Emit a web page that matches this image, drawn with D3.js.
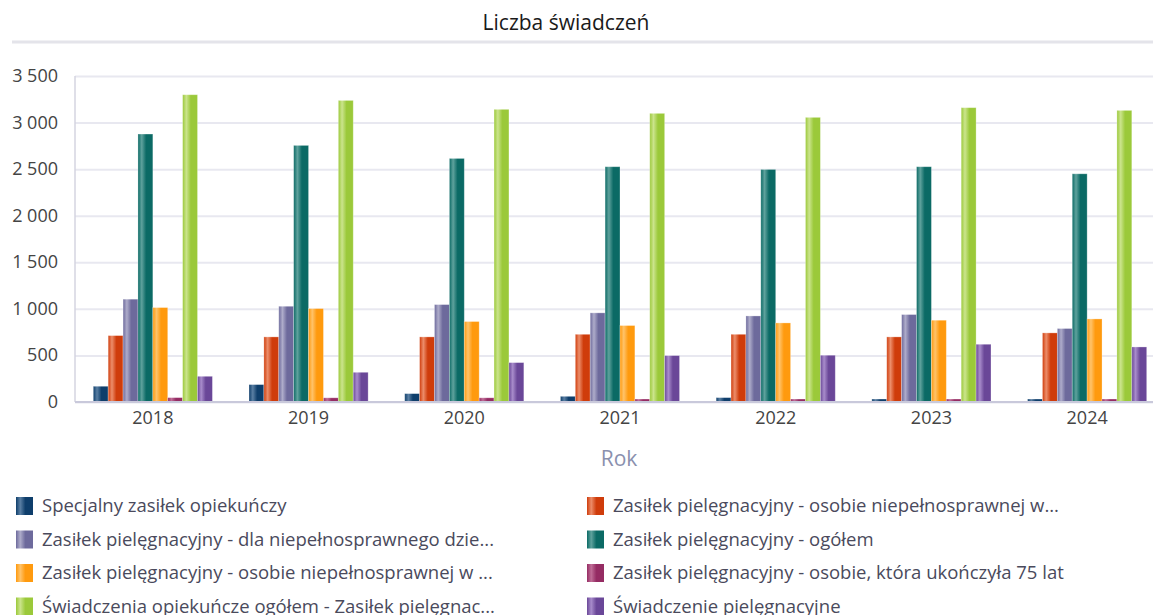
<!DOCTYPE html>
<meta charset="utf-8">
<style>
	body { margin: 0; font-family: "Open Sans", "DejaVu Sans", sans-serif; background: #fff; }
	text { fill: #444; }
	.grid line { stroke: #e8e8f0; stroke-width: 2; }
	.grid path { display: none; }
	.x-axis path { stroke: #c9c9db; stroke-width: 2; }
	.x-axis line { display: none; }
</style>
<body>
<svg id="chart" width="1153" height="615"></svg>

<script src="https://d3js.org/d3.v7.min.js"></script>
<script>
	var years = ["2018", "2019", "2020", "2021", "2022", "2023", "2024"];

	var seriesNames = [
		"Specjalny zasiłek opiekuńczy",
		"Zasiłek pielęgnacyjny -  osobie niepełnosprawnej w...",
		"Zasiłek pielęgnacyjny - dla niepełnosprawnego dzie...",
		"Zasiłek pielęgnacyjny - ogółem",
		"Zasiłek pielęgnacyjny - osobie niepełnosprawnej w ...",
		"Zasiłek pielęgnacyjny - osobie, która ukończyła 75 lat",
		"Świadczenia opiekuńcze ogółem - Zasiłek pielęgnac...",
		"Świadczenie pielęgnacyjne"
	];

	var specjalny   = [169, 187, 90, 61, 47, 32, 32];
	var zpWiek16    = [713, 699, 699, 727, 727, 699, 742];
	var zpDziecko   = [1104, 1028, 1046, 957, 924, 939, 789];
	var zpOgolem    = [2877, 2755, 2615, 2526, 2497, 2526, 2450];
	var zpOsobieW   = [1014, 1003, 864, 821, 849, 878, 892];
	var zp75        = [47, 45, 45, 32, 32, 32, 32];
	var opiekOgolem = [3299, 3238, 3142, 3099, 3056, 3160, 3131];
	var swiadczenie = [276, 319, 423, 498, 502, 620, 591];

	var yTicks = [0, 500, 1000, 1500, 2000, 2500, 3000, 3500];

	var allSeries = [specjalny, zpWiek16, zpDziecko, zpOgolem, zpOsobieW, zp75, opiekOgolem, swiadczenie];

	// [dark, light] for each series
	var colors = [
		["#0e3e6b", "#5a7fa3"],
		["#cf3c0b", "#ec8d6a"],
		["#6d6a9c", "#aeacca"],
		["#0b6a65", "#5fa29d"],
		["#ff9a0e", "#ffc36a"],
		["#952c63", "#c06d97"],
		["#9bc93a", "#cbe48c"],
		["#6a4798", "#a88ccb"]
	];

	var svg = d3.select("#chart");
	var plotLeft = 75, plotRight = 1165, plotTop = 76, plotBottom = 402;

	var defs = svg.append("defs");
	colors.forEach(function(c, i) {
		var g = defs.append("linearGradient").attr("id", "grad" + i)
			.attr("x1", "0%").attr("x2", "100%").attr("y1", "0%").attr("y2", "0%");
		g.append("stop").attr("offset", "0%").attr("stop-color", c[0]);
		g.append("stop").attr("offset", "25%").attr("stop-color", c[1]);
		g.append("stop").attr("offset", "55%").attr("stop-color", c[0]);
		g.append("stop").attr("offset", "100%").attr("stop-color", c[0]);
	});

	// title
	svg.append("text")
		.attr("x", 566).attr("y", 30)
		.attr("text-anchor", "middle")
		.style("font-size", "21px")
		.style("fill", "#1a1a1a")
		.text("Liczba świadczeń");

	svg.append("line")
		.attr("x1", 12).attr("x2", 1153).attr("y1", 42).attr("y2", 42)
		.attr("stroke", "#e4e4ea").attr("stroke-width", 3);

	var y = d3.scaleLinear().domain([0, 3500]).range([plotBottom, plotTop]);

	var x0 = d3.scaleBand().domain(years).range([plotLeft, plotRight])
		.paddingInner(0.235).paddingOuter(0.1175);

	var x1 = d3.scaleBand().domain(d3.range(seriesNames.length)).range([0, x0.bandwidth()]);

	svg.append("g")
		.attr("class", "grid")
		.attr("transform", "translate(" + plotLeft + ",0)")
		.call(d3.axisLeft(y).tickValues(yTicks).tickSize(-(plotRight - plotLeft)).tickFormat(""));

	svg.append("line")
		.attr("x1", plotLeft).attr("x2", plotLeft).attr("y1", plotTop).attr("y2", plotBottom)
		.attr("stroke", "#d4d4e0").attr("stroke-width", 1.5);

	// y labels
	svg.append("g").selectAll("text")
		.data(yTicks)
		.enter().append("text")
		.attr("x", 58)
		.attr("y", function(d) { return y(d) + 6; })
		.attr("text-anchor", "end")
		.style("font-size", "18px")
		.text(function(d) { return d3.format(",")(d).replace(/,/g, " "); });

	// bars
	var groups = svg.append("g").selectAll("g")
		.data(years)
		.enter().append("g")
		.attr("transform", function(d) { return "translate(" + x0(d) + ",0)"; });

	groups.selectAll("rect")
		.data(function(d, i) { return allSeries.map(function(s, k) { return { k: k, v: s[i] }; }); })
		.enter().append("rect")
		.attr("x", function(d) { return x1(d.k); })
		.attr("width", x1.bandwidth())
		.attr("y", function(d) { return y(d.v); })
		.attr("height", function(d) { return plotBottom - y(d.v); })
		.attr("fill", function(d) { return "url(#grad" + d.k + ")"; })
		.attr("stroke", "#ffffff")
		.attr("stroke-opacity", 0.35)
		.attr("stroke-width", 0.8);

	svg.append("g")
		.attr("class", "x-axis")
		.attr("transform", "translate(0," + plotBottom + ")")
		.call(d3.axisBottom(x0).tickSize(0).tickPadding(9))
		.call(function(g) { g.select(".domain").attr("d", "M" + plotLeft + ",0H1153"); })
		.selectAll("text")
		.style("font-size", "18px")
		.style("font-family", "'Open Sans', sans-serif")
		.style("fill", "#444");

	svg.append("text")
		.attr("x", 619).attr("y", 466)
		.attr("text-anchor", "middle")
		.style("font-size", "21px")
		.style("fill", "#8a90ae")
		.text("Rok");

	// legend
	var legend = svg.append("g").selectAll("g")
		.data(seriesNames)
		.enter().append("g")
		.attr("transform", function(d, i) {
			var col = i % 2, row = Math.floor(i / 2);
			return "translate(" + (col ? 587 : 16) + "," + (497 + row * 33.5) + ")";
		});

	legend.append("rect")
		.attr("width", 17).attr("height", 18)
		.attr("fill", function(d, i) { return "url(#grad" + i + ")"; });

	legend.append("text")
		.attr("x", 26).attr("y", 15)
		.style("font-size", "18.5px")
		.style("fill", "#4a4a5c")
		.text(function(d) { return d; });
</script>
</body>
